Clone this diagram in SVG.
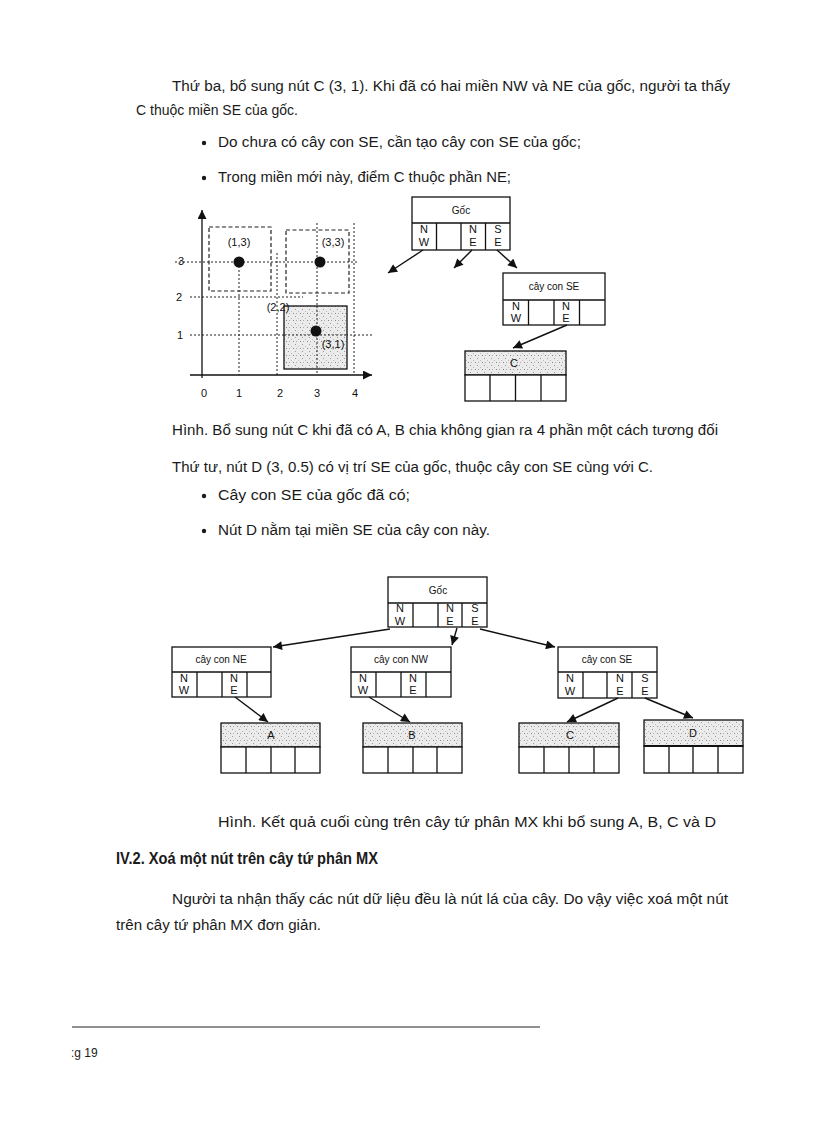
<svg xmlns="http://www.w3.org/2000/svg" width="816" height="1123" viewBox="0 0 816 1123">
<defs>
<pattern id="spk" width="7" height="7" patternUnits="userSpaceOnUse">
<rect width="7" height="7" fill="#ebebeb"/>
<rect x="1" y="1" width="1" height="1" fill="#999"/>
<rect x="4" y="3" width="1" height="1" fill="#bbb"/>
<rect x="2" y="5" width="1" height="1" fill="#aaa"/>
<rect x="6" y="5" width="1" height="1" fill="#888"/>
</pattern>
<marker id="ah" viewBox="0 0 10 10" refX="10" refY="5" markerWidth="10" markerHeight="9" markerUnits="userSpaceOnUse" orient="auto">
<path d="M0,0 L10,5 L0,10 z" fill="#111"/>
</marker>
<marker id="ax" viewBox="0 0 10 10" refX="10" refY="5" markerWidth="11" markerHeight="9" markerUnits="userSpaceOnUse" orient="auto">
<path d="M0,0 L10,5 L0,10 z" fill="#111"/>
</marker>
</defs>
<style>
.t{font-family:"Liberation Sans",Arial,sans-serif;font-size:14px;fill:#1a1a1a}
.h{font-family:"Liberation Sans",Arial,sans-serif;font-size:16px;font-weight:bold;fill:#1a1a1a}
.n{font-family:"Liberation Sans",Arial,sans-serif;font-size:10px;fill:#111;text-anchor:middle}
.c{font-family:"Liberation Sans",Arial,sans-serif;font-size:11px;fill:#111;text-anchor:middle}
.ax{font-family:"Liberation Sans",Arial,sans-serif;font-size:11px;fill:#111;text-anchor:middle}
.bx{fill:#fff;stroke:#111;stroke-width:1.3}
.sh{fill:url(#spk);stroke:#111;stroke-width:1.3}
.ln{stroke:#111;stroke-width:1.3;fill:none}
.dt{stroke:#222;stroke-width:1;stroke-dasharray:2 2;fill:none}
.ds{stroke:#222;stroke-width:1.2;stroke-dasharray:4 2.5;fill:none}
.ar{stroke:#111;stroke-width:1.4;fill:none;marker-end:url(#ah)}
</style>

<!-- Body text -->
<g id="text-top">
<text class="t" x="172" y="91" textLength="558" lengthAdjust="spacingAndGlyphs">Thứ ba, bổ sung nút C (3, 1). Khi đã có hai miền NW và NE của gốc, người ta thấy</text>
<text class="t" x="136" y="115">C thuộc miền SE của gốc.</text>
<circle cx="204" cy="143" r="2.2" fill="#1a1a1a"/>
<text class="t" x="218" y="147" textLength="363" lengthAdjust="spacingAndGlyphs">Do chưa có cây con SE, cần tạo cây con SE của gốc;</text>
<circle cx="204" cy="178" r="2.2" fill="#1a1a1a"/>
<text class="t" x="218" y="182" textLength="293" lengthAdjust="spacingAndGlyphs">Trong miền mới này, điểm C thuộc phần NE;</text>
</g>

<!-- Scatter plot -->
<g id="plot">
<line class="dt" x1="175" y1="262" x2="358" y2="262"/>
<line class="dt" x1="190" y1="297" x2="303" y2="297"/>
<line class="dt" x1="190" y1="335" x2="373" y2="335"/>
<line class="dt" x1="239" y1="262" x2="239" y2="375"/>
<line class="dt" x1="277" y1="253" x2="277" y2="375"/>
<line class="dt" x1="317" y1="223" x2="317" y2="375"/>
<line class="dt" x1="354" y1="223" x2="354" y2="375"/>
<rect class="ds" x="209" y="227" width="62" height="64"/>
<rect class="ds" x="286" y="230" width="63" height="63"/>
<rect class="sh" x="284" y="306" width="63" height="63"/>
<line class="dt" x1="284" y1="335" x2="347" y2="335"/>
<line class="dt" x1="317" y1="306" x2="317" y2="369"/>
<line class="ln" x1="202" y1="378" x2="202" y2="210" marker-end="url(#ax)"/>
<line class="ln" x1="190" y1="375" x2="372" y2="375" marker-end="url(#ax)"/>
<circle cx="239" cy="262" r="5.5" fill="#111"/>
<circle cx="320" cy="262" r="5.5" fill="#111"/>
<circle cx="316" cy="331" r="5.5" fill="#111"/>
<text class="ax" x="239" y="246">(1,3)</text>
<text class="ax" x="333" y="246">(3,3)</text>
<text class="ax" x="278" y="311">(2,2)</text>
<text class="ax" x="333" y="348">(3,1)</text>
<text class="ax" x="181" y="265">3</text>
<text class="ax" x="179" y="301">2</text>
<text class="ax" x="180" y="339">1</text>
<text class="ax" x="204" y="397">0</text>
<text class="ax" x="239" y="397">1</text>
<text class="ax" x="280" y="397">2</text>
<text class="ax" x="317" y="397">3</text>
<text class="ax" x="355" y="397">4</text>
</g>

<!-- Upper tree -->
<g id="goc1">
<rect class="bx" x="412" y="197" width="98" height="53"/>
<line class="ln" x1="412" y1="223" x2="510" y2="223"/>
<line class="ln" x1="436.5" y1="223" x2="436.5" y2="250"/>
<line class="ln" x1="461" y1="223" x2="461" y2="250"/>
<line class="ln" x1="485.5" y1="223" x2="485.5" y2="250"/>
<text class="n" x="461" y="214">Gốc</text>
<text class="c" x="424" y="233">N</text><text class="c" x="424" y="246">W</text>
<text class="c" x="473" y="233">N</text><text class="c" x="473" y="246">E</text>
<text class="c" x="498" y="233">S</text><text class="c" x="498" y="246">E</text>
</g>
<g id="se1">
<rect class="bx" x="503" y="273" width="102" height="52"/>
<line class="ln" x1="503" y1="300" x2="605" y2="300"/>
<line class="ln" x1="528.5" y1="300" x2="528.5" y2="325"/>
<line class="ln" x1="554" y1="300" x2="554" y2="325"/>
<line class="ln" x1="579.5" y1="300" x2="579.5" y2="325"/>
<text class="n" x="554" y="290">cây con SE</text>
<text class="c" x="516" y="310">N</text><text class="c" x="516" y="322">W</text>
<text class="c" x="566" y="310">N</text><text class="c" x="566" y="322">E</text>
</g>
<g id="c1">
<rect class="sh" x="465" y="351" width="101" height="24"/>
<rect class="bx" x="465" y="375" width="101" height="26"/>
<line class="ln" x1="490" y1="375" x2="490" y2="401"/>
<line class="ln" x1="515.5" y1="375" x2="515.5" y2="401"/>
<line class="ln" x1="541" y1="375" x2="541" y2="401"/>
<text class="c" x="514" y="367">C</text>
</g>

<g id="caption1">
<text class="t" x="172" y="435" textLength="546" lengthAdjust="spacingAndGlyphs">Hình. Bổ sung nút C khi đã có A, B chia không gian ra 4 phần một cách tương đối</text>
<text class="t" x="172" y="472" textLength="481" lengthAdjust="spacingAndGlyphs">Thứ tư, nút D (3, 0.5) có vị trí SE của gốc, thuộc cây con SE cùng với C.</text>
<circle cx="204" cy="496" r="2.2" fill="#1a1a1a"/>
<text class="t" x="218" y="500" textLength="192" lengthAdjust="spacingAndGlyphs">Cây con SE của gốc đã có;</text>
<circle cx="204" cy="531" r="2.2" fill="#1a1a1a"/>
<text class="t" x="218" y="535" textLength="272" lengthAdjust="spacingAndGlyphs">Nút D nằm tại miền SE của cây con này.</text>
</g>

<!-- Lower tree -->
<g id="goc2">
<rect class="bx" x="388" y="577" width="99" height="50"/>
<line class="ln" x1="388" y1="603" x2="487" y2="603"/>
<line class="ln" x1="413" y1="603" x2="413" y2="627"/>
<line class="ln" x1="438" y1="603" x2="438" y2="627"/>
<line class="ln" x1="462" y1="603" x2="462" y2="627"/>
<text class="n" x="438" y="594">Gốc</text>
<text class="c" x="400" y="612">N</text><text class="c" x="400" y="625">W</text>
<text class="c" x="450" y="612">N</text><text class="c" x="450" y="625">E</text>
<text class="c" x="475" y="612">S</text><text class="c" x="475" y="625">E</text>
</g>
<g id="ne2">
<rect class="bx" x="172" y="647" width="99" height="50"/>
<line class="ln" x1="172" y1="672" x2="271" y2="672"/>
<line class="ln" x1="197" y1="672" x2="197" y2="697"/>
<line class="ln" x1="222" y1="672" x2="222" y2="697"/>
<line class="ln" x1="247" y1="672" x2="247" y2="697"/>
<text class="n" x="221" y="663">cây con NE</text>
<text class="c" x="184" y="682">N</text><text class="c" x="184" y="694">W</text>
<text class="c" x="234" y="682">N</text><text class="c" x="234" y="694">E</text>
</g>
<g id="nw2">
<rect class="bx" x="351" y="647" width="100" height="50"/>
<line class="ln" x1="351" y1="672" x2="451" y2="672"/>
<line class="ln" x1="376" y1="672" x2="376" y2="697"/>
<line class="ln" x1="401" y1="672" x2="401" y2="697"/>
<line class="ln" x1="426" y1="672" x2="426" y2="697"/>
<text class="n" x="401" y="663">cây con NW</text>
<text class="c" x="363" y="682">N</text><text class="c" x="363" y="694">W</text>
<text class="c" x="413" y="682">N</text><text class="c" x="413" y="694">E</text>
</g>
<g id="se2">
<rect class="bx" x="558" y="647" width="99" height="51"/>
<line class="ln" x1="558" y1="672" x2="657" y2="672"/>
<line class="ln" x1="583" y1="672" x2="583" y2="698"/>
<line class="ln" x1="607" y1="672" x2="607" y2="698"/>
<line class="ln" x1="632" y1="672" x2="632" y2="698"/>
<text class="n" x="607" y="663">cây con SE</text>
<text class="c" x="570" y="682">N</text><text class="c" x="570" y="695">W</text>
<text class="c" x="620" y="682">N</text><text class="c" x="620" y="695">E</text>
<text class="c" x="645" y="682">S</text><text class="c" x="645" y="695">E</text>
</g>
<g id="a2">
<rect class="sh" x="221" y="723" width="99" height="24"/>
<rect class="bx" x="221" y="747" width="99" height="26"/>
<line class="ln" x1="246" y1="747" x2="246" y2="773"/>
<line class="ln" x1="271" y1="747" x2="271" y2="773"/>
<line class="ln" x1="295" y1="747" x2="295" y2="773"/>
<text class="c" x="271" y="739">A</text>
</g>
<g id="b2">
<rect class="sh" x="363" y="723" width="99" height="24"/>
<rect class="bx" x="363" y="747" width="99" height="26"/>
<line class="ln" x1="388" y1="747" x2="388" y2="773"/>
<line class="ln" x1="413" y1="747" x2="413" y2="773"/>
<line class="ln" x1="437" y1="747" x2="437" y2="773"/>
<text class="c" x="412" y="739">B</text>
</g>
<g id="c2">
<rect class="sh" x="519" y="723" width="100" height="24"/>
<rect class="bx" x="519" y="747" width="100" height="26"/>
<line class="ln" x1="544" y1="747" x2="544" y2="773"/>
<line class="ln" x1="569" y1="747" x2="569" y2="773"/>
<line class="ln" x1="594" y1="747" x2="594" y2="773"/>
<text class="c" x="570" y="739">C</text>
</g>
<g id="d2">
<rect class="sh" x="644" y="720" width="99" height="26"/>
<rect class="bx" x="644" y="746" width="99" height="27"/>
<line stroke="#111" stroke-width="2.2" x1="644" y1="746" x2="743" y2="746"/>
<line class="ln" x1="669" y1="746" x2="669" y2="773"/>
<line class="ln" x1="693" y1="746" x2="693" y2="773"/>
<line class="ln" x1="718" y1="746" x2="718" y2="773"/>
<text class="c" x="693" y="737">D</text>
</g>

<!-- Connectors -->
<g id="connectors">
<line class="ar" x1="423" y1="250" x2="388" y2="273"/>
<line class="ar" x1="472" y1="250" x2="454" y2="268"/>
<line class="ar" x1="497" y1="250" x2="517" y2="268"/>
<line class="ar" x1="567" y1="325" x2="513" y2="348"/>
<line class="ar" x1="390" y1="629" x2="273" y2="647"/>
<line class="ar" x1="457" y1="628" x2="452" y2="645"/>
<line class="ar" x1="480" y1="629" x2="555" y2="647"/>
<line class="ar" x1="235" y1="697" x2="268" y2="722"/>
<line class="ar" x1="369" y1="697" x2="410" y2="722"/>
<line class="ar" x1="618" y1="698" x2="567" y2="722"/>
<line class="ar" x1="645" y1="698" x2="693" y2="718"/>
</g>

<g id="text-bottom">
<text class="t" x="218" y="827" textLength="498" lengthAdjust="spacingAndGlyphs">Hình. Kết quả cuối cùng trên cây tứ phân MX khi bổ sung A, B, C và D</text>
<text class="h" x="116" y="864" textLength="262" lengthAdjust="spacingAndGlyphs">IV.2. Xoá một nút trên cây tứ phân MX</text>
<text class="t" x="172" y="904" textLength="556" lengthAdjust="spacingAndGlyphs">Người ta nhận thấy các nút dữ liệu đều là nút lá của cây. Do vậy việc xoá một nút</text>
<text class="t" x="116" y="930" textLength="205" lengthAdjust="spacingAndGlyphs">trên cây tứ phân MX đơn giản.</text>
<line x1="72" y1="1027" x2="540" y2="1027" stroke="#222" stroke-width="1.2"/>
<text class="t" x="71" y="1057" style="font-size:12px">:g 19</text>
</g>
</svg>
